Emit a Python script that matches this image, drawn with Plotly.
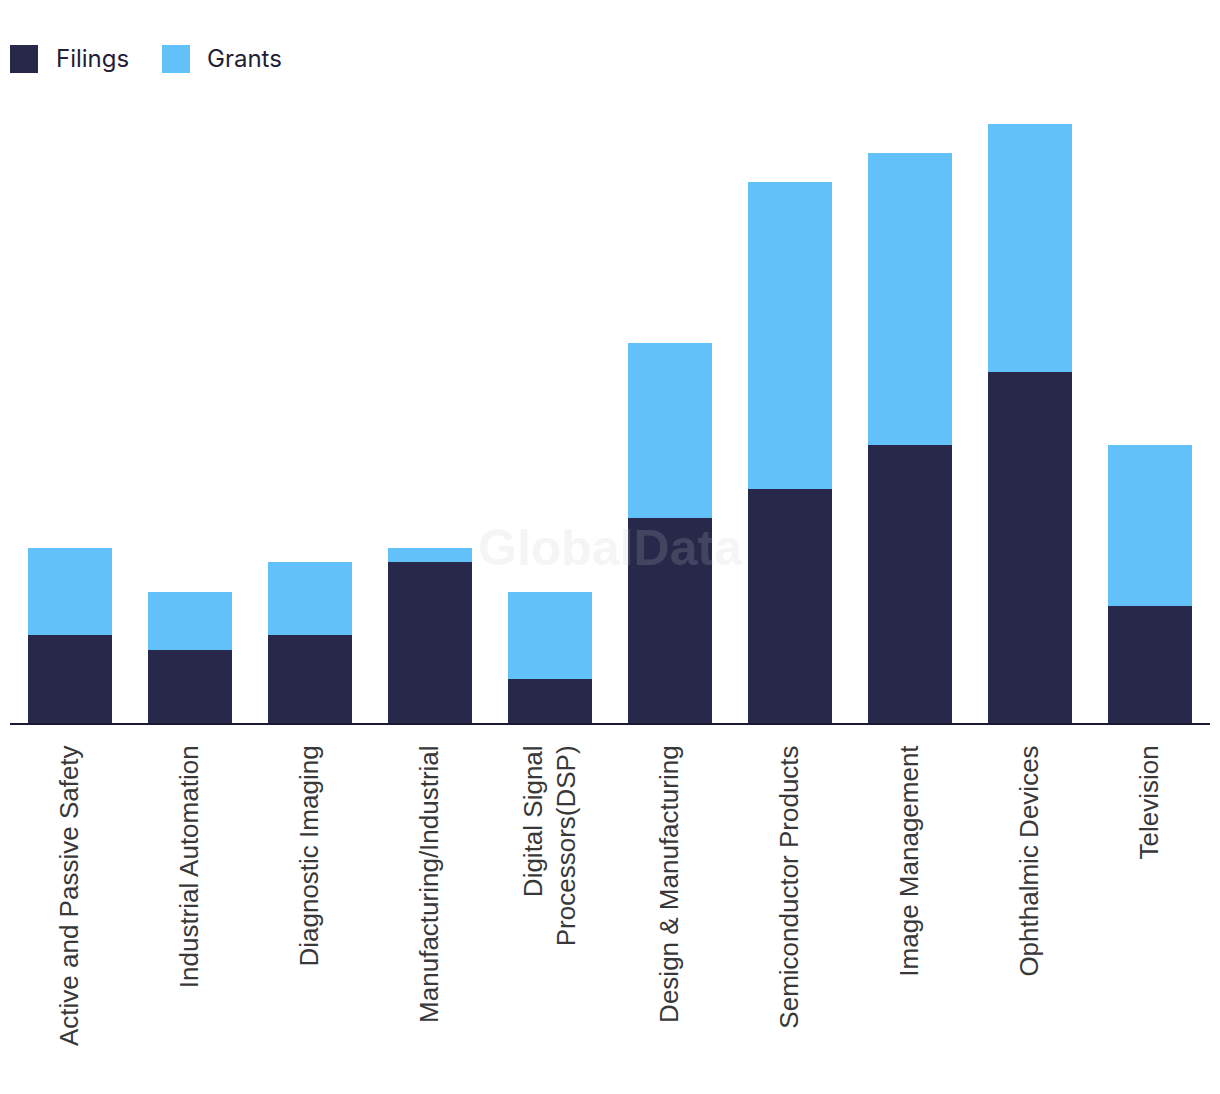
import plotly.graph_objects as go

categories = [
    "Active and Passive Safety",
    "Industrial Automation",
    "Diagnostic Imaging",
    "Manufacturing/Industrial",
    "Digital Signal<br>Processors(DSP)",
    "Design & Manufacturing",
    "Semiconductor Products",
    "Image Management",
    "Ophthalmic Devices",
    "Television",
]
filings = [6, 5, 6, 11, 3, 14, 16, 19, 24, 8]
grants = [6, 4, 5, 1, 6, 12, 21, 20, 17, 11]

NAVY = "#27284A"
BLUE = "#62C1F8"

W, H = 1220, 1094
OFF = 8  # page body offset
ML, MR, MT, MB = 2, 18, 116, 379
PW = W - ML - MR
PH = H - MT - MB

def px_to_paper(x, y):
    # x, y in screen pixel coords
    x -= OFF
    y -= OFF
    return (x - ML) / PW, (H - MB - y) / PH

fig = go.Figure()
fig.add_trace(go.Bar(name="Filings", x=categories, y=filings, marker_color=NAVY,
                     marker_line_width=0, showlegend=False))
fig.add_trace(go.Bar(name="Grants", x=categories, y=grants, marker_color=BLUE,
                     marker_line_width=0, showlegend=False))

# Custom legend
legend_items = [("Filings", NAVY, 10, 54), ("Grants", BLUE, 162, 205)]
for name, col, sx, tx in legend_items:
    x0, y1 = px_to_paper(sx, 45)
    x1, y0 = px_to_paper(sx + 28, 73)
    fig.add_shape(type="rect", xref="paper", yref="paper", x0=x0, x1=x1, y0=y0, y1=y1,
                  fillcolor=col, line_width=0)
    ax, ay = px_to_paper(tx, 58)
    fig.add_annotation(x=ax, y=ay, xref="paper", yref="paper", text=name, showarrow=False,
                       xanchor="left", yanchor="middle",
                       font=dict(family="Inter, Open Sans, sans-serif", size=24, color="#1F2035"))

# Watermark
wx, wy = px_to_paper(610, 548)
fig.add_annotation(x=wx, y=wy, xref="paper", yref="paper", text="<b>GlobalData</b>",
                   showarrow=False, xanchor="center", yanchor="middle",
                   font=dict(family="Liberation Sans, Arial, sans-serif", size=50,
                             color="rgba(200,200,200,0.18)"))

fig.update_layout(
    width=W, height=H,
    margin=dict(l=ML, r=MR, t=MT, b=MB),
    barmode="stack",
    bargap=0.3,
    plot_bgcolor="white",
    paper_bgcolor="white",
    xaxis=dict(
        tickangle=-90,
        tickfont=dict(family="Liberation Sans, Arial, sans-serif", size=26, color="#383838"),
        showline=True, linecolor="#1A1B33", linewidth=2,
        showgrid=False, ticks="", ticklabelstandoff=10,
    ),
    yaxis=dict(range=[0, 41], visible=False, showgrid=False, zeroline=False),
    showlegend=False,
)

fig.write_html("out.html")
